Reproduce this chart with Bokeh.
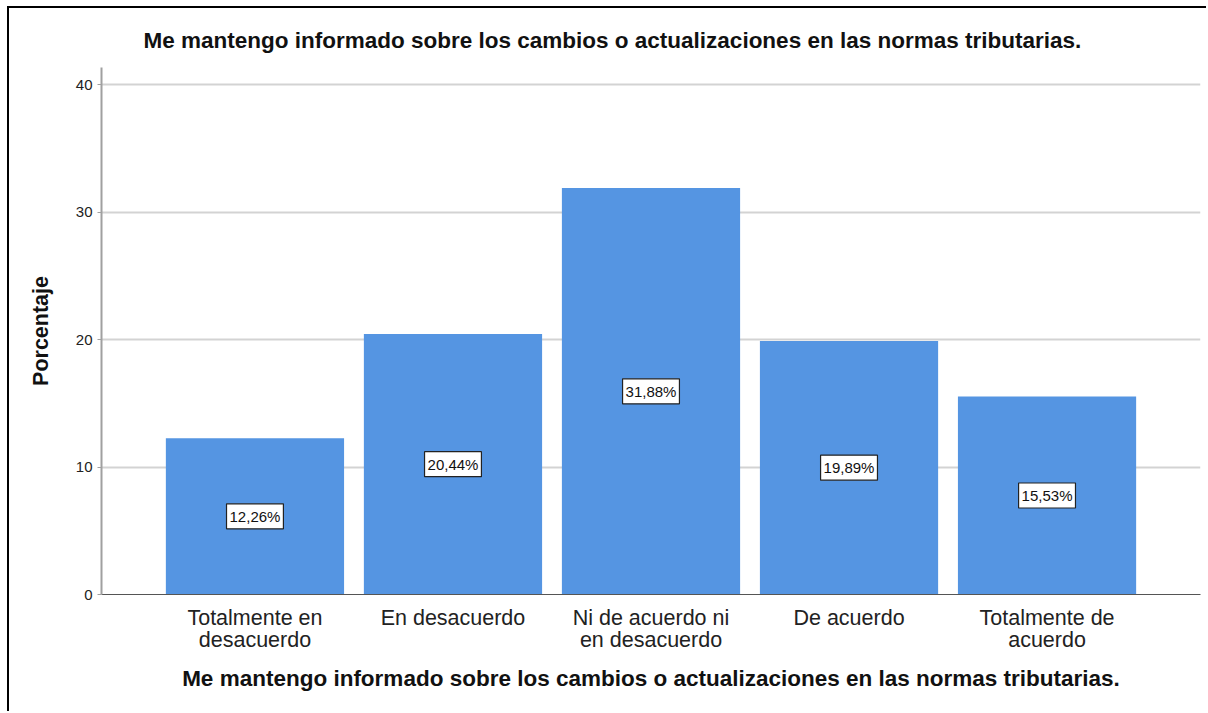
from bokeh.plotting import figure
from bokeh.models import FactorRange, Range1d, FixedTicker, ColumnDataSource
from bokeh.core.properties import value
from bokeh.embed import file_html
from bokeh.resources import INLINE

categories = [
    "Totalmente en\ndesacuerdo",
    "En desacuerdo",
    "Ni de acuerdo ni\nen desacuerdo",
    "De acuerdo",
    "Totalmente de\nacuerdo",
]
percentages = [12.26, 20.44, 31.88, 19.89, 15.53]
y_ticks = [0, 10, 20, 30, 40]
title_text = "Me mantengo informado sobre los cambios o actualizaciones en las normas tributarias."
x_label = "Me mantengo informado sobre los cambios o actualizaciones en las normas tributarias."
y_label = "Porcentaje"

labels = [f"{v:.2f}".replace(".", ",") + "%" for v in percentages]
mids = [v / 2 for v in percentages]

src = ColumnDataSource(dict(cat=categories, pct=percentages, mid=mids, lab=labels))

FONT = "Liberation Sans"

p = figure(
    x_range=FactorRange(*categories, range_padding=0.11),
    y_range=Range1d(0, 41.34),
    width=1199, height=705,
    output_backend="svg", toolbar_location=None,
    min_border_left=92, min_border_right=8, min_border_top=59, min_border_bottom=119,
    background_fill_color="white", border_fill_color="white",
)
p.styles = {"margin-left": "9px", "margin-top": "8px"}
p.stylesheets = [":host { box-shadow: -2px -2px 0px 0px black; }"]

p.title.text = title_text
p.title.text_font = FONT
p.title.text_font_size = "22.5px"
p.title.text_font_style = "bold"
p.title.text_color = "#111111"
p.title.align = "left"
p.title.offset = 42
p.title.standoff = 29

p.vbar(x="cat", top="pct", width=0.9, source=src, fill_color="#5595e2", line_color=None)
p.text(x="cat", y="mid", text="lab", source=src, text_align="center", text_baseline="middle",
       text_font=value(FONT), text_font_size="15px", text_color="#111111",
       background_fill_color="white", border_line_color="#222222", border_line_width=1.2,
       padding=(3, 4))

p.outline_line_color = None
p.xgrid.grid_line_color = None
p.ygrid.ticker = FixedTicker(ticks=y_ticks)
p.ygrid.grid_line_color = "#d3d3d3"
p.ygrid.grid_line_width = 2

xa = p.xaxis[0]
xa.axis_label = x_label
xa.axis_label_text_font = FONT
xa.axis_label_text_font_size = "22.5px"
xa.axis_label_text_font_style = "bold"
xa.axis_label_text_color = "#111111"
xa.axis_label_standoff = 11
xa.major_label_text_font = FONT
xa.major_label_text_font_size = "21.5px"
xa.major_label_text_line_height = 0.95
xa.major_label_text_color = "#222222"
xa.major_label_standoff = 5
xa.major_tick_line_color = None
xa.axis_line_color = "#555555"
xa.axis_line_width = 1

ya = p.yaxis[0]
ya.ticker = FixedTicker(ticks=y_ticks)
ya.axis_label = y_label
ya.axis_label_text_font = FONT
ya.axis_label_text_font_size = "21.5px"
ya.axis_label_text_font_style = "bold"
ya.axis_label_text_color = "#111111"
ya.axis_label_standoff = 20
ya.major_label_text_font = FONT
ya.major_label_text_font_size = "15px"
ya.major_label_text_color = "#222222"
ya.major_label_standoff = 5
ya.major_tick_out = 4
ya.major_tick_in = 0
ya.major_tick_line_color = "#a0a0a0"
ya.minor_tick_line_color = None
ya.axis_line_color = "#a0a0a0"
ya.axis_line_width = 2

open("out.html", "w").write(file_html(p, INLINE))
